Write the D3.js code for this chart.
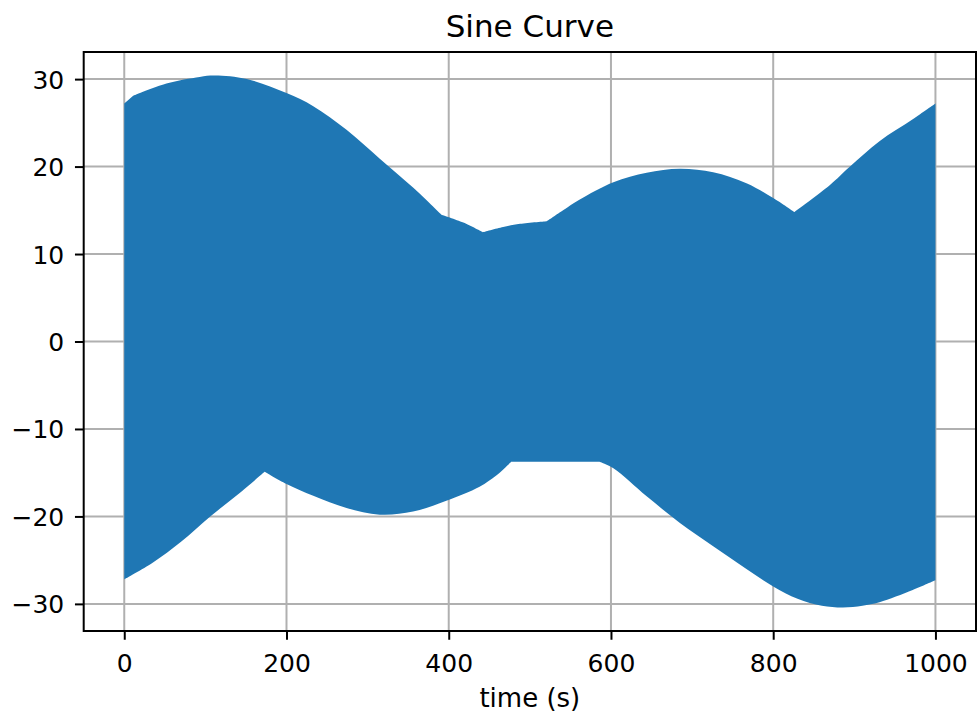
<!DOCTYPE html>
<html>
<head>
<meta charset="utf-8">
<script src="https://cdn.jsdelivr.net/npm/d3@7"></script>
<style>
  html, body { margin: 0; padding: 0; background: #fff; }
  svg { display: block; font-family: "DejaVu Sans", sans-serif; }
</style>
</head>
<body>
<svg id="chart" width="979" height="719"></svg>
<script>
// Envelope of the fast-oscillating sine signal: upper and lower bounds over time
const upperTime  = [0, 11, 52, 93, 112, 151, 200, 233, 274, 315, 356, 391, 418, 442, 467, 488, 521, 541, 561, 603, 644, 685, 726, 767, 800, 826, 870, 894, 931, 972, 1000];
const upperValue = [27.2, 28.1, 29.5, 30.25, 30.4, 30.0, 28.4, 26.9, 24.2, 20.9, 17.6, 14.5, 13.6, 12.5, 13.1, 13.45, 13.75, 15.0, 16.2, 18.2, 19.3, 19.75, 19.35, 18.1, 16.4, 14.8, 17.9, 19.95, 22.9, 25.4, 27.2];
// times where the upper envelope has a corner
const upperCorners = [11, 391, 442, 521, 826];

const lowerTime  = [0, 35, 70, 106, 140, 173, 200, 233, 274, 315, 356, 397, 438, 459, 477, 586, 603, 644, 685, 726, 767, 800, 830, 860, 886, 910, 931, 972, 1000];
const lowerValue = [-27.2, -25.3, -22.9, -20.0, -17.5, -14.9, -16.3, -17.65, -19.05, -19.8, -19.45, -18.2, -16.6, -15.3, -13.76, -13.76, -14.5, -17.7, -20.75, -23.4, -26.0, -28.0, -29.4, -30.2, -30.4, -30.2, -29.8, -28.4, -27.3];
// times where the lower envelope has a corner
const lowerCorners = [173, 477, 586];

const xTicks = [0, 200, 400, 600, 800, 1000];
const yTicks = [-30, -20, -10, 0, 10, 20, 30];

const titleText = "Sine Curve";
const xLabelText = "time (s)";

const svg = d3.select("#chart");
const plot = { left: 83.7, right: 976, top: 52, bottom: 631 };

const x = d3.scaleLinear().domain([-50, 1050]).range([plot.left, plot.right]);
const y = d3.scaleLinear().domain([-33.1, 33.1]).range([plot.bottom, plot.top]);

const tickFont = 25;
const gridColor = "#b0b0b0";

// grid
const grid = svg.append("g");
grid.selectAll("line.gx").data(xTicks).join("line")
  .attr("x1", d => x(d)).attr("x2", d => x(d))
  .attr("y1", plot.top).attr("y2", plot.bottom)
  .attr("stroke", gridColor).attr("stroke-width", 2);
grid.selectAll("line.gy").data(yTicks).join("line")
  .attr("x1", plot.left).attr("x2", plot.right)
  .attr("y1", d => y(d)).attr("y2", d => y(d))
  .attr("stroke", gridColor).attr("stroke-width", 2);

// Smooth path through the envelope points, split at corners so they stay sharp.
const smooth = d3.line().curve(d3.curveCatmullRom.alpha(0.5));
function envelopePath(times, values, corners, reverse) {
  let pts = times.map((t, i) => ({ t, p: [x(t), y(values[i])] }));
  if (reverse) pts = pts.slice().reverse();
  const pieces = [];
  let cur = [];
  pts.forEach(d => {
    cur.push(d.p);
    if (corners.includes(d.t) && cur.length > 1) {
      pieces.push(cur);
      cur = [d.p];
    }
  });
  if (cur.length > 1) pieces.push(cur);
  return pieces.map(seg => smooth(seg).replace(/^M/, "L")).join("");
}

const upperPath = envelopePath(upperTime, upperValue, upperCorners, false).replace(/^L/, "M");
const lowerPath = envelopePath(lowerTime, lowerValue, lowerCorners, true);

svg.append("path")
  .attr("d", upperPath + lowerPath + "Z")
  .attr("fill", "#1f77b4");

// axes
const xAxis = d3.axisBottom(x).tickValues(xTicks).tickSize(8.75).tickPadding(8).tickFormat(d3.format("d"));
const yAxis = d3.axisLeft(y).tickValues(yTicks).tickSize(8.75).tickPadding(8).tickFormat(d3.format("d"));

const gx = svg.append("g").attr("transform", `translate(0,${plot.bottom})`).call(xAxis);
const gy = svg.append("g").attr("transform", `translate(${plot.left},0)`).call(yAxis);
[gx, gy].forEach(g => {
  g.select(".domain").remove();
  g.selectAll(".tick line").attr("stroke", "#000").attr("stroke-width", 2);
  g.selectAll(".tick text")
    .attr("fill", "#000")
    .style("font-family", "'DejaVu Sans', sans-serif")
    .style("font-size", tickFont + "px");
});
gx.selectAll(".tick text").attr("dy", null).attr("y", 40.5);
gy.selectAll(".tick text").attr("dy", null).attr("x", -19.5).attr("y", 9);

// frame
svg.append("rect")
  .attr("x", plot.left).attr("y", plot.top)
  .attr("width", plot.right - plot.left).attr("height", plot.bottom - plot.top)
  .attr("fill", "none").attr("stroke", "#000").attr("stroke-width", 2);

// title and axis label
svg.append("text")
  .attr("x", (plot.left + plot.right) / 2).attr("y", 37)
  .attr("text-anchor", "middle").attr("font-size", 31).attr("fill", "#000")
  .text(titleText);
svg.append("text")
  .attr("x", (plot.left + plot.right) / 2).attr("y", 707)
  .attr("text-anchor", "middle").attr("font-size", 26).attr("fill", "#000")
  .text(xLabelText);
</script>
</body>
</html>
